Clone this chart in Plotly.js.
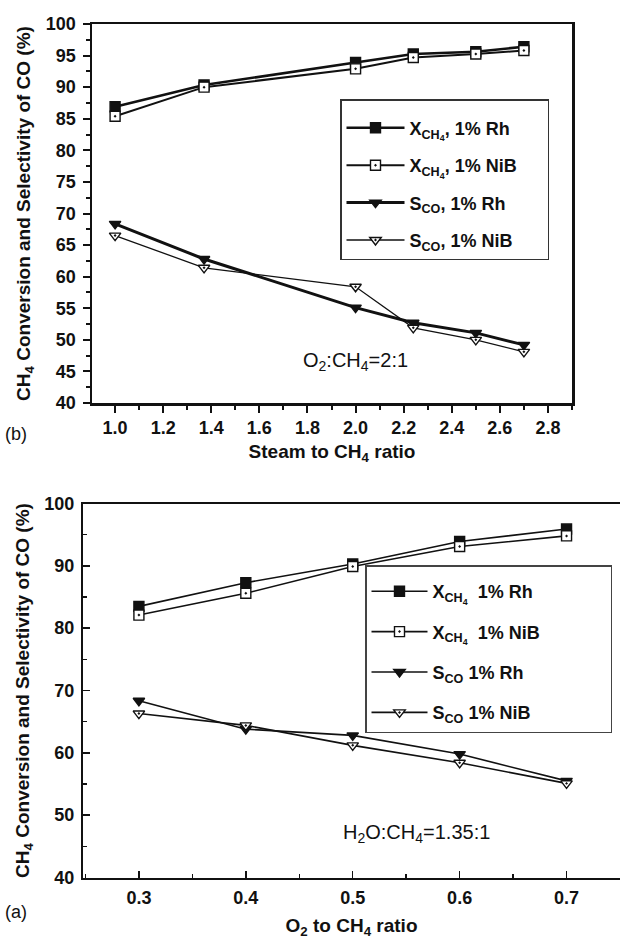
<!DOCTYPE html>
<html>
<head>
<meta charset="utf-8">
<script src="https://cdn.plot.ly/plotly-3.0.1.min.js"></script>
<style>html,body{margin:0;padding:0;background:#fff;}#chart{width:620px;height:941px;}</style>
</head>
<body>
<div id="chart"></div>
<script>
// Panel (b): steam to CH4 ratio
var steamRatio = [1.0, 1.37, 2.0, 2.24, 2.5, 2.7];
var xCH4_Rh_b  = [86.9, 90.35, 93.9, 95.25, 95.6, 96.4];
var xCH4_NiB_b = [85.4, 90.0, 92.9, 94.7, 95.25, 95.8];
var sCO_Rh_b   = [68.35, 62.8, 55.1, 52.7, 51.1, 49.2];
var sCO_NiB_b  = [66.5, 61.4, 58.4, 51.9, 50.0, 48.1];

// Panel (a): O2 to CH4 ratio
var o2Ratio = [0.3, 0.4, 0.5, 0.6, 0.7];
var xCH4_Rh_a  = [83.5, 87.3, 90.3, 93.9, 95.9];
var xCH4_NiB_a = [82.1, 85.6, 89.9, 93.1, 94.8];
var sCO_Rh_a   = [68.35, 63.8, 62.8, 59.8, 55.5];
var sCO_NiB_a  = [66.3, 64.4, 61.2, 58.4, 55.1];

var namesB = ['X<sub>CH<sub>4</sub></sub>, 1% Rh', 'X<sub>CH<sub>4</sub></sub>, 1% NiB', 'S<sub>CO</sub>, 1% Rh', 'S<sub>CO</sub>, 1% NiB'];
var namesA = ['X<sub>CH<sub>4</sub></sub>  1% Rh', 'X<sub>CH<sub>4</sub></sub>  1% NiB', 'S<sub>CO</sub> 1% Rh', 'S<sub>CO</sub> 1% NiB'];

var FONT = 'Liberation Sans, Arial, Helvetica, sans-serif';
var BLACK = '#111';
var NB = '\u00a0';
function pad(s, n) { return s + NB.repeat(n); }

function tr(x, y, name, xa, ya, leg, grp, symbol, lw, filled) {
  return {
    x: x, y: y, name: name, xaxis: xa, yaxis: ya, legend: leg, legendgroup: grp,
    type: 'scatter', mode: 'lines+markers',
    line: {color: BLACK, width: lw},
    marker: {symbol: symbol, size: 10, color: filled ? BLACK : '#fff', line: {color: BLACK, width: 1.4}}
  };
}

var data = [
  tr(steamRatio, xCH4_Rh_b,  pad(namesB[0], 5), 'x', 'y', 'legend', 'b1', 'square', 2.6, true),
  tr(steamRatio, xCH4_NiB_b, pad(namesB[1], 5), 'x', 'y', 'legend', 'b2', 'square-dot', 2.0, false),
  tr(steamRatio, sCO_Rh_b,   pad(namesB[2], 5), 'x', 'y', 'legend', 'b3', 'triangle-down', 3.0, true),
  tr(steamRatio, sCO_NiB_b,  pad(namesB[3], 5), 'x', 'y', 'legend', 'b4', 'triangle-down-dot', 1.3, false),
  tr(o2Ratio, xCH4_Rh_a,  pad(namesA[0], 13), 'x2', 'y2', 'legend2', 'a1', 'square', 1.6, true),
  tr(o2Ratio, xCH4_NiB_a, pad(namesA[1], 13), 'x2', 'y2', 'legend2', 'a2', 'square-dot', 1.6, false),
  tr(o2Ratio, sCO_Rh_a,   pad(namesA[2], 13), 'x2', 'y2', 'legend2', 'a3', 'triangle-down', 1.6, true),
  tr(o2Ratio, sCO_NiB_a,  pad(namesA[3], 13), 'x2', 'y2', 'legend2', 'a4', 'triangle-down-dot', 1.6, false)
];

var tickFont = {family: FONT, size: 18, color: BLACK, weight: 'bold'};
var titleFont = {family: FONT, size: 19, color: BLACK, weight: 'bold'};
var yTitle = 'CH<sub>4</sub> Conversion and Selectivity of CO (%)';

var layout = {
  width: 620, height: 941,
  margin: {l: 0, r: 0, t: 0, b: 0},
  paper_bgcolor: '#fff', plot_bgcolor: '#fff',
  showlegend: true,
  font: {family: FONT, color: BLACK},
  xaxis: {
    domain: [92/620, 572/620], range: [0.904, 2.9], anchor: 'y',
    showline: true, linewidth: 2.5, linecolor: BLACK, mirror: true,
    showgrid: false, zeroline: false,
    ticks: 'outside', ticklen: 7, tickwidth: 2, tickcolor: BLACK,
    tick0: 1.0, dtick: 0.2, tickformat: '.1f', ticklabelstandoff: 0,
    minor: {dtick: 0.1, ticks: 'outside', ticklen: 4, tickwidth: 2, tickcolor: BLACK, showgrid: false},
    tickfont: tickFont,
    title: {text: 'Steam to CH<sub>4</sub> ratio', font: titleFont, standoff: 8}
  },
  yaxis: {
    domain: [1 - 403/941, 1 - 24/941], range: [40, 100], anchor: 'x',
    showline: true, linewidth: 2.5, linecolor: BLACK, mirror: true,
    showgrid: false, zeroline: false,
    ticks: 'outside', ticklen: 7, tickwidth: 2, tickcolor: BLACK,
    dtick: 5, ticklabelstandoff: 3,
    minor: {dtick: 2.5, ticks: 'outside', ticklen: 4, tickwidth: 2, tickcolor: BLACK, showgrid: false},
    tickfont: tickFont,
    title: {text: yTitle, font: titleFont, standoff: 10}
  },
  xaxis2: {
    domain: [83/620, 1], range: [0.2477, 0.75], anchor: 'y2',
    showline: true, linewidth: 2, linecolor: BLACK, mirror: true,
    showgrid: false, zeroline: false,
    ticks: 'inside', ticklen: 7, tickwidth: 1.5, tickcolor: BLACK,
    tick0: 0.3, dtick: 0.1, tickformat: '.1f', ticklabelstandoff: 3,
    minor: {dtick: 0.05, ticks: 'inside', ticklen: 4, tickwidth: 1.5, tickcolor: BLACK, showgrid: false},
    tickfont: tickFont,
    title: {text: 'O<sub>2</sub> to CH<sub>4</sub> ratio', font: titleFont, standoff: 12}
  },
  yaxis2: {
    domain: [1 - 877.5/941, 1 - 503.5/941], range: [40, 100], anchor: 'x2',
    showline: true, linewidth: 2, linecolor: BLACK, mirror: false,
    showgrid: false, zeroline: false,
    ticks: 'inside', ticklen: 7, tickwidth: 1.5, tickcolor: BLACK,
    dtick: 10, ticklabelstandoff: 3,
    minor: {dtick: 5, ticks: 'inside', ticklen: 4, tickwidth: 1.5, tickcolor: BLACK, showgrid: false},
    tickfont: tickFont,
    title: {text: yTitle, font: titleFont, standoff: 10}
  },
  legend: {
    x: 340/620, y: 1 - 99/941, xanchor: 'left', yanchor: 'top',
    bgcolor: '#fff', bordercolor: '#333', borderwidth: 1.5,
    font: {family: FONT, size: 18, color: BLACK, weight: 'bold'},
    title: {text: NB, font: {size: 7}},
    itemwidth: 58, tracegroupgap: 11, traceorder: 'grouped'
  },
  legend2: {
    x: 365/620, y: 1 - 565/941, xanchor: 'left', yanchor: 'top',
    bgcolor: '#fff', bordercolor: '#444', borderwidth: 1.5,
    font: {family: FONT, size: 18, color: BLACK, weight: 'bold'},
    title: {text: NB, font: {size: 5}},
    itemwidth: 56, tracegroupgap: 14, traceorder: 'grouped'
  },
  annotations: [
    {text: 'O<sub>2</sub>:CH<sub>4</sub>=2:1', xref: 'x', yref: 'y', x: 2.0, y: 46.5, showarrow: false,
     font: {family: FONT, size: 20, color: BLACK}},
    {text: 'H<sub>2</sub>O:CH<sub>4</sub>=1.35:1', xref: 'x2', yref: 'y2', x: 0.56, y: 47, showarrow: false,
     font: {family: FONT, size: 20, color: BLACK}},
    {text: '(b)', xref: 'paper', yref: 'paper', x: 3/620, y: 1 - 434/941, xanchor: 'left', yanchor: 'middle', showarrow: false,
     font: {family: FONT, size: 18, color: BLACK}},
    {text: '(a)', xref: 'paper', yref: 'paper', x: 3/620, y: 1 - 912/941, xanchor: 'left', yanchor: 'middle', showarrow: false,
     font: {family: FONT, size: 18, color: BLACK}}
  ]
};

Plotly.newPlot('chart', data, layout, {displayModeBar: false, staticPlot: true});
</script>
</body>
</html>
